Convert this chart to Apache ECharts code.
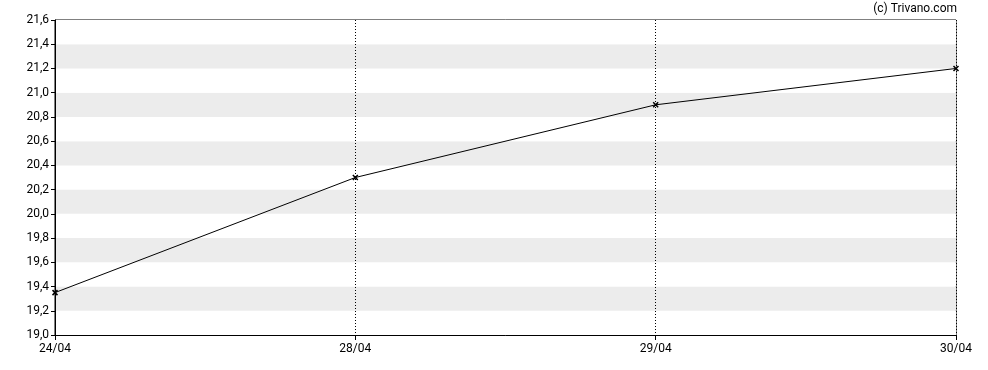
<!DOCTYPE html>
<html><head><meta charset="utf-8">
<script src="https://cdn.jsdelivr.net/npm/echarts@6/dist/echarts.min.js"></script>
<style>html,body{margin:0;padding:0;background:#fff}#c{width:988px;height:370px}</style>
</head><body><div id="c"></div>
<script>
const categories = ['24/04', '28/04', '29/04', '30/04'];
const values = [19.35, 20.3, 20.9, 21.2];
const yMin = 19.0, yMax = 21.6, yStep = 0.2;

const chart = echarts.init(document.getElementById('c'), null, {renderer: 'canvas'});
const fmt = v => v.toFixed(1).replace('.', ',');
chart.setOption({
  animation: false,
  backgroundColor: '#fff',
  graphic: [{type: 'text', right: 31, top: 3, style: {text: '(c) Trivano.com', font: '12px Roboto', fill: '#000'}}],
  grid: {left: 55, right: 32, top: 20, bottom: 35, show: true, borderColor: '#000', borderWidth: 1, backgroundColor: 'transparent'},
  xAxis: {
    type: 'category', data: categories, boundaryGap: false,
    axisLine: {lineStyle: {color: '#000', width: 1}},
    axisTick: {show: true, length: 5, lineStyle: {color: '#000'}},
    axisLabel: {color: '#000', fontFamily: 'Roboto', fontSize: 12, margin: 8, showMinLabel: true, showMaxLabel: true},
    splitLine: {show: true, lineStyle: {color: '#000', type: [1, 2], width: 1}}
  },
  yAxis: {
    type: 'value', min: yMin, max: yMax, interval: yStep,
    axisLine: {show: true, lineStyle: {color: '#000', width: 1}},
    axisTick: {show: true, length: 4, lineStyle: {color: '#000'}},
    axisLabel: {color: '#000', fontFamily: 'Roboto', fontSize: 12, margin: 6, formatter: fmt},
    splitLine: {show: false},
    splitArea: {show: true, areaStyle: {color: ['#ffffff', '#ececec']}}
  },
  series: [{
    type: 'line', data: values,
    lineStyle: {color: '#000', width: 1},
    symbol: 'path://M0,0 L10,10 M10,0 L0,10', symbolSize: 5,
    itemStyle: {color: '#000', borderColor: '#000', borderWidth: 1.5},
    showAllSymbol: true
  }]
});
</script></body></html>
